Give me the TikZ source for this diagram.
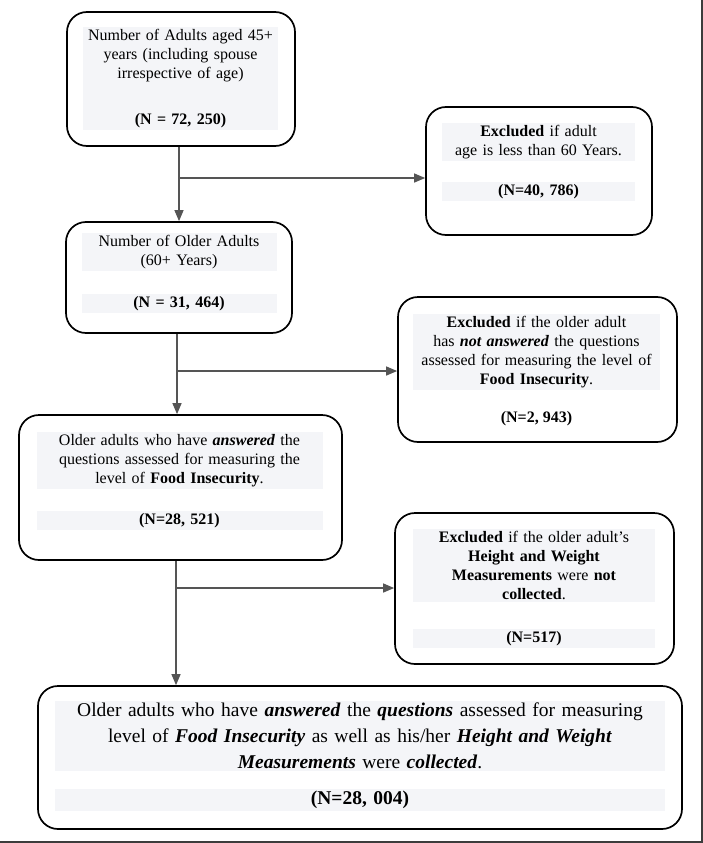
\documentclass[tikz,border=0pt]{standalone}
\usepackage{fontspec}
\setmainfont{Liberation Serif}
\usetikzlibrary{arrows.meta,positioning}
\definecolor{txtbg}{RGB}{244,245,248}
\definecolor{lnkgray}{RGB}{85,85,85}
\definecolor{framegray}{RGB}{60,60,60}

\begin{document}
\begin{tikzpicture}[x=1pt,y=-1pt,
  stage/.style={draw, line width=1.7pt, rounded corners=20pt, inner sep=0pt},
  shade/.style={fill=txtbg, inner xsep=0pt, inner ysep=2pt, align=center, anchor=north, font=\fontsize{16}{19}\selectfont},
  bigshade/.style={shade, font=\fontsize{19.5}{26}\selectfont},
  flow/.style={line width=1.3pt, draw=lnkgray, -{Triangle[length=11pt,width=9pt]}}]
\useasboundingbox (0,0) rectangle (703,843);
% page frame
\draw[framegray, line width=1.5pt] (702,0) -- (702,842) -- (0,842);

% main column
\node[stage, minimum width=228pt, minimum height=134pt] (adults) at (181,79) {};
\node[shade, text width=195pt, minimum height=99pt] (adultsTxt) at (180.5,27)
  {Number of Adults aged 45+\\years (including spouse\\irrespective of age)\\[27pt]\textbf{(N = 72, 250)}};

\node[stage, minimum width=226pt, minimum height=111pt] (older) at (179,277.5) {};
\node[shade, text width=195pt] (olderTxt) at (179,233)
  {Number of Older Adults\\(60+ Years)};
\node[shade, text width=195pt] (olderN) at (179,294) {\textbf{(N = 31, 464)}};

\node[stage, minimum width=323pt, minimum height=145pt] (answered) at (180.5,487.5) {};
\node[shade, text width=286pt] (answeredTxt) at (179.5,432)
  {Older adults who have \textbf{\textit{answered}} the\\questions assessed for measuring the\\level of \textbf{Food Insecurity}.};
\node[shade, text width=286pt] (answeredN) at (179.5,511) {\textbf{(N=28, 521)}};

\node[stage, minimum width=644pt, minimum height=143pt] (final) at (360,757.5) {};
\node[bigshade, text width=610pt] (finalTxt) at (360,701)
  {Older adults who have \textbf{\textit{answered}} the \textbf{\textit{questions}} assessed for measuring\\
   level of \textbf{\textit{Food Insecurity}} as well as his/her \textbf{\textit{Height and Weight}}\\
   \textbf{\textit{Measurements}} were \textbf{\textit{collected}}.};
\node[bigshade, text width=610pt] (finalN) at (360,789) {\textbf{(N=28, 004)}};

% exclusions
\node[stage, minimum width=226pt, minimum height=128pt] (ageOut) at (539,171) {};
\node[shade, text width=193pt] (ageOutTxt) at (538.5,123)
  {\textbf{Excluded} if adult\\age is less than 60 Years.};
\node[shade, text width=193pt] (ageOutN) at (538.5,182) {\textbf{(N=40, 786)}};

\node[stage, minimum width=279pt, minimum height=145pt] (foodOut) at (537.5,369.5) {};
\node[shade, text width=247pt] (foodOutTxt) at (536.5,314)
  {\textbf{Excluded} if the older adult\\has \textbf{\textit{not answered}} the questions\\assessed for measuring the level of\\\textbf{Food Insecurity}.};
\node[font=\fontsize{16}{19}\selectfont, anchor=north] (foodOutN) at (536.5,408) {\textbf{(N=2, 943)}};

\node[stage, minimum width=279pt, minimum height=151pt] (bodyOut) at (534.5,588.5) {};
\node[shade, text width=242pt] (bodyOutTxt) at (534,529)
  {\textbf{Excluded} if the older adult's\\\textbf{Height and Weight}\\\textbf{Measurements} were \textbf{not}\\\textbf{collected}.};
\node[shade, text width=242pt] (bodyOutN) at (534,629) {\textbf{(N=517)}};

% connectors
\coordinate (j1) at (179,178);
\coordinate (j2) at (177,371);
\coordinate (j3) at (176,588);
\draw[flow] (adults.south -| j1) -- (older.north -| j1);
\draw[flow] (j1) -- (ageOut.west |- j1);
\draw[flow] (older.south -| j2) -- (answered.north -| j2);
\draw[flow] (j2) -- (foodOut.west |- j2);
\draw[flow] (answered.south -| j3) -- (final.north -| j3);
\draw[flow] (j3) -- (bodyOut.west |- j3);
\end{tikzpicture}
\end{document}
